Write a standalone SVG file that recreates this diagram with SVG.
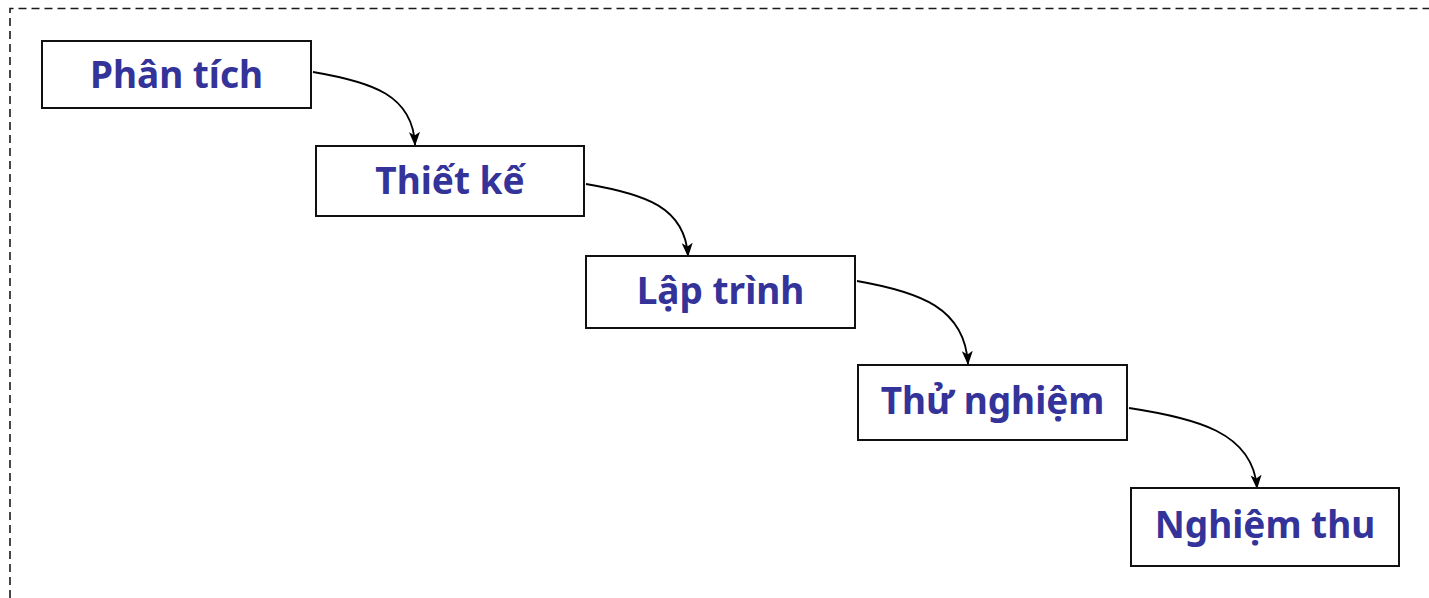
<svg xmlns="http://www.w3.org/2000/svg" width="1429" height="598" viewBox="0 0 1429 598">
  <defs>
    <style>
      .frame { fill: none; stroke: #1a1a1a; stroke-width: 1.6; stroke-dasharray: 8 5; }
      .box { fill: #fff; stroke: #111; stroke-width: 2; }
      .label { font-family: "Noto Sans", "DejaVu Sans", sans-serif; font-weight: bold; font-size: 37px; fill: #333399; text-anchor: middle; }
      .link { fill: none; stroke: #000; stroke-width: 1.8; marker-end: url(#arrow); }
    </style>
    <marker id="arrow" viewBox="0 0 14 12" refX="13" refY="6" markerWidth="14" markerHeight="12" markerUnits="userSpaceOnUse" orient="auto">
      <path d="M0,0.5 L14,6 L0,11.5 L3.5,6 Z" fill="#000"/>
    </marker>
  </defs>

  <rect width="1429" height="598" fill="#fff"/>

  <!-- dashed outer frame, running past the right and bottom edges -->
  <path class="frame" d="M10,598 L10,8.5 L1429,8.5"/>

  <g id="connectors">
    <path class="link" d="M313,72 C372,82 413,95 415,145"/>
    <path class="link" d="M586,184 C645,194 685,207 688,256"/>
    <path class="link" d="M857,281 C920,292 965,308 968,364"/>
    <path class="link" d="M1129,408 C1195,418 1253,432 1257,488"/>
  </g>

  <g id="node-phan-tich">
    <rect class="box" x="42" y="41" width="269" height="67"/>
    <text class="label" x="176.5" y="88">Phân tích</text>
  </g>
  <g id="node-thiet-ke">
    <rect class="box" x="316" y="146" width="268" height="70"/>
    <text class="label" x="450" y="194">Thiết kế</text>
  </g>
  <g id="node-lap-trinh">
    <rect class="box" x="586" y="256" width="269" height="72"/>
    <text class="label" x="720.5" y="304">Lập trình</text>
  </g>
  <g id="node-thu-nghiem">
    <rect class="box" x="858" y="365" width="269" height="75"/>
    <text class="label" x="992.5" y="414">Thử nghiệm</text>
  </g>
  <g id="node-nghiem-thu">
    <rect class="box" x="1131" y="488" width="268" height="78"/>
    <text class="label" x="1265" y="538">Nghiệm thu</text>
  </g>
</svg>
